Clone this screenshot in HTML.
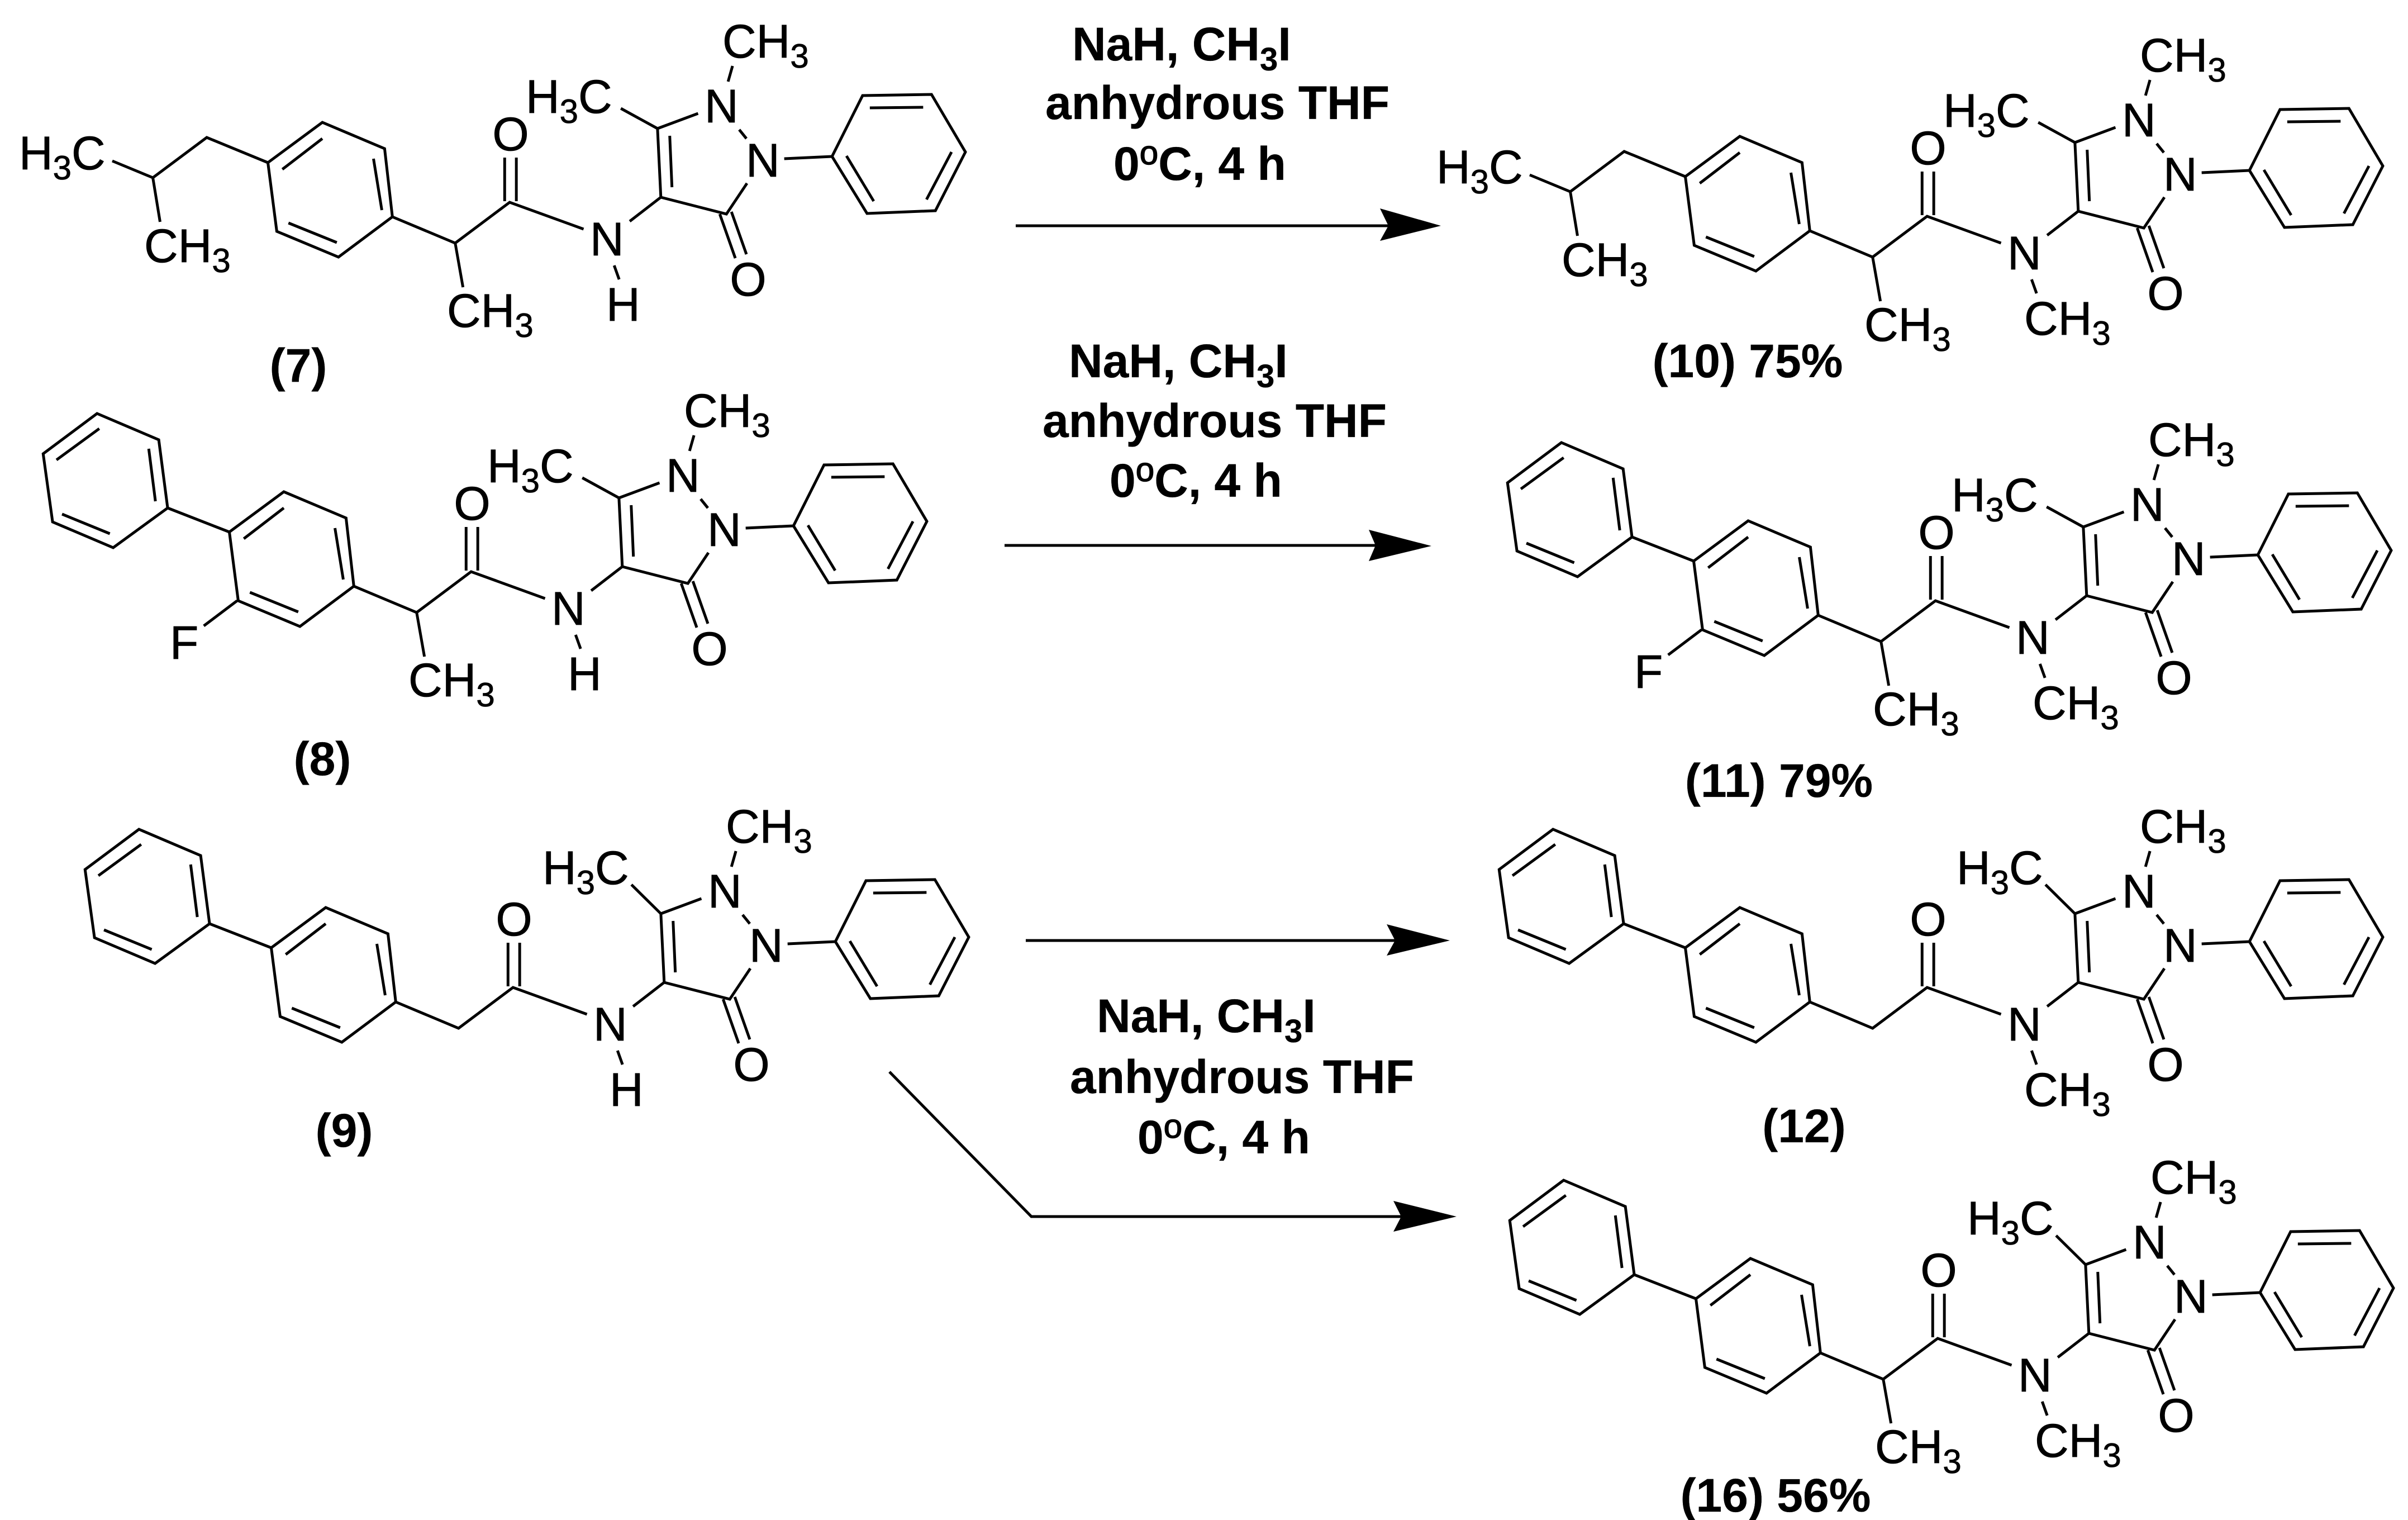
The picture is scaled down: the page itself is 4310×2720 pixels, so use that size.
<!DOCTYPE html>
<html><head><meta charset="utf-8"><style>
html,body{margin:0;padding:0;background:#fff}
svg{display:block}
text{font-family:"Liberation Sans",sans-serif;font-size:84px;fill:#000;stroke:#000;stroke-width:.8px}
.b{font-weight:bold;stroke-width:.3px}
.m{text-anchor:middle}
.deg{font-weight:normal;font-size:60px;stroke-width:1.5px}
</style></head><body>
<svg xmlns="http://www.w3.org/2000/svg" width="4310" height="2720" viewBox="0 0 4310 2720">
<rect width="4310" height="2720" fill="#fff"/>
<defs>
<path id="core" transform="scale(.9948 1)" d="M482 291L580 219L692 266L706 388L609 460L498 414ZM508 303L580 248M672 284L687 376M519 399L606 434M706 388L819 435L917 362L1050 410M908 360V282M929 360V282M1133 396L1189 353L1183 230L1256 203M1209 335L1205 243M1318 118L1310 146M1330 232L1343 248M1344 328L1307 383L1189 353M1295 383L1323 462M1316 379L1343 455M1105 475L1114 500M1411 284L1497 280M1497 280L1552 171L1676 169L1737 272L1683 377L1560 382ZM1565 193L1661 192M1712 272L1667 357M1523 279L1572 360"/>
<path id="ca" transform="scale(.9948 1)" d="M1183 230L1117 194"/>
<path id="cb" transform="scale(.9948 1)" d="M1183 230L1130 178"/>
<path id="iso" transform="scale(.9948 1)" d="M202 288L275 318L288 397M275 318L372 246L482 291"/>
<path id="biph" transform="scale(.9948 1)" d="M244 79L355 126L371 248L273 319L164 273L147 151ZM248 106L171 162M337 142L349 236M181 259L267 294M371 248L482 291"/>
<path id="branch" transform="scale(.9948 1)" d="M819 435L833 514"/>
<path id="fb" transform="scale(.9948 1)" d="M496 414L436 459"/>
</defs>
<g fill="none" stroke="#000" stroke-width="5" stroke-linejoin="miter">
<use href="#core"/><use href="#ca"/><use href="#iso"/><use href="#branch"/>
<g transform="translate(-69 661)"><use href="#core"/><use href="#ca"/><use href="#biph"/><use href="#branch"/><use href="#fb"/></g>
<g transform="translate(6 1405)"><use href="#core"/><use href="#cb"/><use href="#biph"/></g>
<g transform="translate(2537 25)"><use href="#core"/><use href="#ca"/><use href="#iso"/><use href="#branch"/></g>
<g transform="translate(2552 713)"><use href="#core"/><use href="#ca"/><use href="#biph"/><use href="#branch"/><use href="#fb"/></g>
<g transform="translate(2537 1405)"><use href="#core"/><use href="#cb"/><use href="#biph"/></g>
<g transform="translate(2556 2033)"><use href="#core"/><use href="#cb"/><use href="#biph"/><use href="#branch"/></g>
<path d="M1818 404H2485M1798 976H2462M1836 1683H2497M1592 1918L1846 2177H2508"/>
</g>
<g fill="#000">
<path d="M2470 373L2579 404L2470 431L2485 404Z"/>
<path d="M2450 948L2562 977L2450 1004L2462 976Z"/>
<path d="M2482 1654L2595 1683L2482 1710L2497 1683Z"/>
<path d="M2494 2149L2607 2177L2494 2204L2508 2177Z"/>
</g>

<!-- 7 -->
<g>
<text x="34" y="303">H<tspan font-size="60" dy="18">3</tspan><tspan dy="-18">C</tspan></text>
<text x="258" y="469">CH<tspan font-size="60" dy="18">3</tspan></text>
<text x="914" y="269" class="m">O</text>
<text x="800" y="585">CH<tspan font-size="60" dy="18">3</tspan></text>
<text x="1056" y="457">N</text>
<text x="1085" y="574">H</text>
<text x="941" y="202">H<tspan font-size="60" dy="18">3</tspan><tspan dy="-18">C</tspan></text>
<text x="1261" y="219">N</text>
<text x="1293" y="103">CH<tspan font-size="60" dy="18">3</tspan></text>
<text x="1335" y="316">N</text>
<text x="1339" y="529" class="m">O</text>
</g>
<!-- 8 -->
<g transform="translate(-69 661)">
<text x="373" y="518">F</text>
<text x="914" y="269" class="m">O</text>
<text x="800" y="585">CH<tspan font-size="60" dy="18">3</tspan></text>
<text x="1056" y="457">N</text>
<text x="1085" y="574">H</text>
<text x="941" y="202">H<tspan font-size="60" dy="18">3</tspan><tspan dy="-18">C</tspan></text>
<text x="1261" y="219">N</text>
<text x="1293" y="103">CH<tspan font-size="60" dy="18">3</tspan></text>
<text x="1335" y="316">N</text>
<text x="1339" y="529" class="m">O</text>
</g>
<!-- 9 -->
<g transform="translate(6 1405)">
<text x="914" y="269" class="m">O</text>
<text x="1056" y="457">N</text>
<text x="1085" y="574">H</text>
<text x="965" y="177">H<tspan font-size="60" dy="18">3</tspan><tspan dy="-18">C</tspan></text>
<text x="1261" y="219">N</text>
<text x="1293" y="103">CH<tspan font-size="60" dy="18">3</tspan></text>
<text x="1335" y="316">N</text>
<text x="1339" y="529" class="m">O</text>
</g>
<!-- 10 -->
<g transform="translate(2537 25)">
<text x="34" y="303">H<tspan font-size="60" dy="18">3</tspan><tspan dy="-18">C</tspan></text>
<text x="258" y="469">CH<tspan font-size="60" dy="18">3</tspan></text>
<text x="914" y="269" class="m">O</text>
<text x="800" y="585">CH<tspan font-size="60" dy="18">3</tspan></text>
<text x="1056" y="457">N</text>
<text x="1086" y="574">CH<tspan font-size="60" dy="18">3</tspan></text>
<text x="941" y="202">H<tspan font-size="60" dy="18">3</tspan><tspan dy="-18">C</tspan></text>
<text x="1261" y="219">N</text>
<text x="1293" y="103">CH<tspan font-size="60" dy="18">3</tspan></text>
<text x="1335" y="316">N</text>
<text x="1339" y="529" class="m">O</text>
</g>
<!-- 11 -->
<g transform="translate(2552 713)">
<text x="373" y="518">F</text>
<text x="914" y="269" class="m">O</text>
<text x="800" y="585">CH<tspan font-size="60" dy="18">3</tspan></text>
<text x="1056" y="457">N</text>
<text x="1086" y="574">CH<tspan font-size="60" dy="18">3</tspan></text>
<text x="941" y="202">H<tspan font-size="60" dy="18">3</tspan><tspan dy="-18">C</tspan></text>
<text x="1261" y="219">N</text>
<text x="1293" y="103">CH<tspan font-size="60" dy="18">3</tspan></text>
<text x="1335" y="316">N</text>
<text x="1339" y="529" class="m">O</text>
</g>
<!-- 12 -->
<g transform="translate(2537 1405)">
<text x="914" y="269" class="m">O</text>
<text x="1056" y="457">N</text>
<text x="1086" y="574">CH<tspan font-size="60" dy="18">3</tspan></text>
<text x="965" y="177">H<tspan font-size="60" dy="18">3</tspan><tspan dy="-18">C</tspan></text>
<text x="1261" y="219">N</text>
<text x="1293" y="103">CH<tspan font-size="60" dy="18">3</tspan></text>
<text x="1335" y="316">N</text>
<text x="1339" y="529" class="m">O</text>
</g>
<!-- 16 -->
<g transform="translate(2556 2033)">
<text x="914" y="269" class="m">O</text>
<text x="800" y="585">CH<tspan font-size="60" dy="18">3</tspan></text>
<text x="1056" y="457">N</text>
<text x="1086" y="574">CH<tspan font-size="60" dy="18">3</tspan></text>
<text x="965" y="176">H<tspan font-size="60" dy="18">3</tspan><tspan dy="-18">C</tspan></text>
<text x="1261" y="219">N</text>
<text x="1293" y="103">CH<tspan font-size="60" dy="18">3</tspan></text>
<text x="1335" y="316">N</text>
<text x="1339" y="529" class="m">O</text>
</g>

<!-- compound labels -->
<text class="b m" x="534" y="683">(7)</text>
<text class="b m" x="577" y="1387">(8)</text>
<text class="b m" x="616" y="2052">(9)</text>
<text class="b m" x="3128" y="675">(10) 75%</text>
<text class="b m" x="3184" y="1426">(11) 79%</text>
<text class="b m" x="3229" y="2044">(12)</text>
<text class="b m" x="3178" y="2705">(16) 56%</text>

<!-- reagents -->
<text class="b" x="1919" y="108">NaH, CH<tspan font-size="58" dy="18">3</tspan><tspan dy="-18">I</tspan></text>
<text class="b" x="1871" y="213">anhydrous THF</text>
<text class="b" x="1993" y="322">0<tspan class="deg" dy="-28">o</tspan><tspan dy="28">C, 4 h</tspan></text>

<text class="b" x="1913" y="675">NaH, CH<tspan font-size="58" dy="18">3</tspan><tspan dy="-18">I</tspan></text>
<text class="b" x="1866" y="782">anhydrous THF</text>
<text class="b" x="1986" y="889">0<tspan class="deg" dy="-28">o</tspan><tspan dy="28">C, 4 h</tspan></text>

<text class="b" x="1963" y="1847">NaH, CH<tspan font-size="58" dy="18">3</tspan><tspan dy="-18">I</tspan></text>
<text class="b" x="1915" y="1956">anhydrous THF</text>
<text class="b" x="2036" y="2064">0<tspan class="deg" dy="-28">o</tspan><tspan dy="28">C, 4 h</tspan></text>
</svg>
</body></html>
